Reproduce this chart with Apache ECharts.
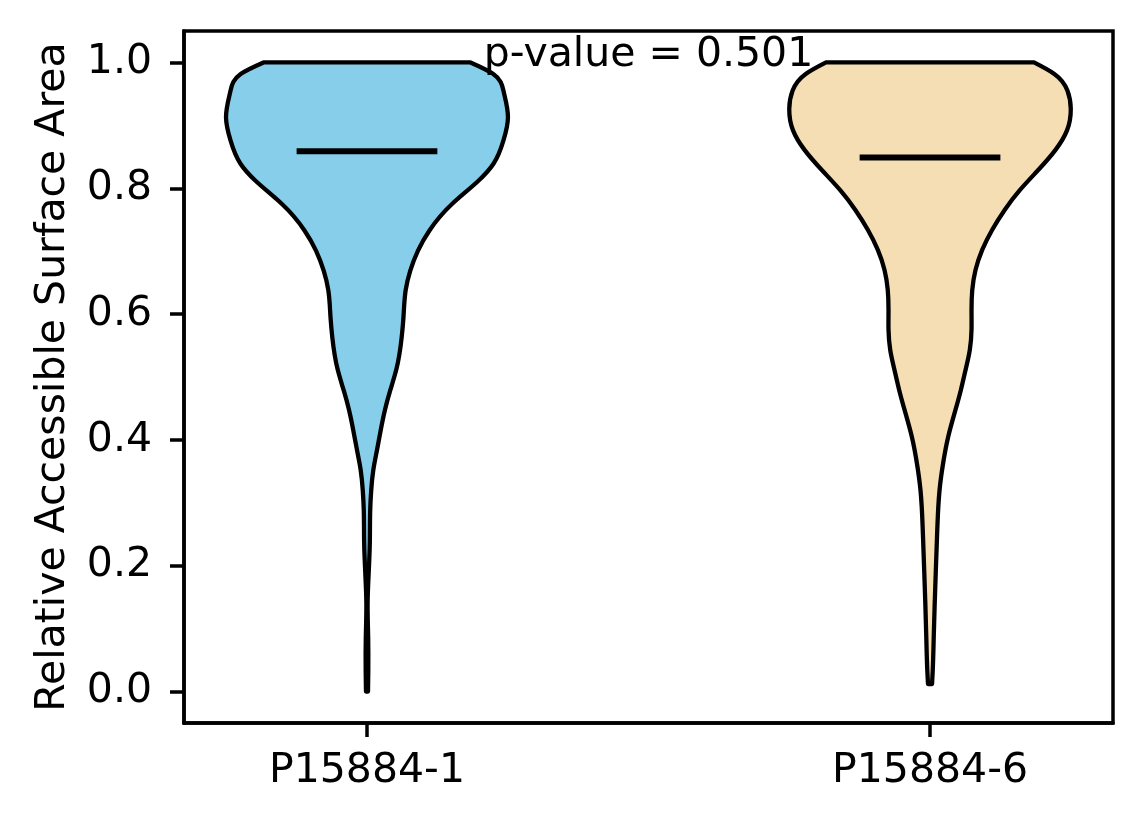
<!DOCTYPE html>
<html>
<head>
<meta charset="utf-8">
<title>Relative Accessible Surface Area</title>
<script src="https://cdn.jsdelivr.net/npm/echarts@6.0.0/dist/echarts.min.js"></script>
<style>
  html, body { margin: 0; padding: 0; background: #fff; }
  #chart { width: 1144px; height: 824px; }
</style>
</head>
<body>
<div id="chart"></div>
<script>
const groups = ['P15884-1', 'P15884-6'];
const groupPositions = [1, 2];
const fillColors = ['#87ceeb', '#f5deb3'];
const means = [0.859, 0.849];
const pValueText = 'p-value = 0.501';
const yTicks = [0, 0.2, 0.4, 0.6, 0.8, 1.0];

// violin outlines: RSA level (bottom to top) and half width in x units
const levels1 = [0.000, 0.033, 0.086, 0.140, 0.192, 0.236, 0.288, 0.320, 0.352, 0.384, 0.416, 0.448, 0.479, 0.513,
  0.563, 0.595, 0.638, 0.669, 0.701, 0.733, 0.775, 0.812, 0.839, 0.876, 0.913, 0.955, 0.982, 1.000];
const halfWidths1 = [0.0018, 0.0023, 0.0021, 0.0011, 0.0032, 0.0050, 0.0057, 0.0075, 0.0112, 0.0178, 0.0245, 0.0320, 0.0414, 0.0524,
  0.0616, 0.0648, 0.0687, 0.0769, 0.0906, 0.1110, 0.1510, 0.1980, 0.2247, 0.2424, 0.2504, 0.2424, 0.2238, 0.1838];

const levels2 = [0.012, 0.033, 0.086, 0.139, 0.192, 0.245, 0.293, 0.320, 0.362, 0.404, 0.448, 0.479, 0.511, 0.543,
  0.575, 0.606, 0.638, 0.670, 0.702, 0.734, 0.766, 0.797, 0.829, 0.861, 0.892, 0.926, 0.955, 0.982, 1.000];
const halfWidths2 = [0.0036, 0.0048, 0.0066, 0.0083, 0.0103, 0.0124, 0.0147, 0.0169, 0.0231, 0.0320, 0.0453, 0.0547, 0.0631, 0.0707,
  0.0737, 0.0737, 0.0750, 0.0808, 0.0927, 0.1105, 0.1329, 0.1595, 0.1922, 0.2229, 0.2433, 0.2500, 0.2442, 0.2202, 0.1847];

const violinLevels = [levels1, levels2];
const violinHalfWidths = [halfWidths1, halfWidths2];

const FONT = 'DejaVu Sans';
const FONT_SIZE = 41;
const LINE_W = 3.5;

// slopes of a natural cubic spline through (t, v), used for bezier control points
function splineSlopes(t, v) {
  const n = t.length - 1;
  const h = [];
  for (let i = 0; i < n; i++) h.push(t[i + 1] - t[i]);
  const M = new Array(n + 1).fill(0);
  if (n > 1) {
    const a = [], b = [], c = [], r = [];
    for (let i = 1; i < n; i++) {
      a.push(h[i - 1]);
      b.push(2 * (h[i - 1] + h[i]));
      c.push(h[i]);
      r.push(6 * ((v[i + 1] - v[i]) / h[i] - (v[i] - v[i - 1]) / h[i - 1]));
    }
    const m = b.length;
    for (let i = 1; i < m; i++) {
      const w = a[i] / b[i - 1];
      b[i] -= w * c[i - 1];
      r[i] -= w * r[i - 1];
    }
    const x = new Array(m);
    x[m - 1] = r[m - 1] / b[m - 1];
    for (let i = m - 2; i >= 0; i--) x[i] = (r[i] - c[i] * x[i + 1]) / b[i];
    for (let i = 1; i < n; i++) M[i] = x[i - 1];
  }
  const s = [];
  for (let i = 0; i < n; i++) s.push((v[i + 1] - v[i]) / h[i] - h[i] * (2 * M[i] + M[i + 1]) / 6);
  s.push((v[n] - v[n - 1]) / h[n - 1] + h[n - 1] * (M[n - 1] + 2 * M[n]) / 6);
  return s;
}

// one side of a violin as bezier segments, side = +1 (right) or -1 (left)
function sidePath(api, pos, lv, hw, slopes, side, reverse) {
  const segs = [];
  for (let i = 0; i < lv.length - 1; i++) {
    const h = lv[i + 1] - lv[i];
    const c1w = Math.max(hw[i] + slopes[i] * h / 3, 0.0004);
    const c2w = Math.max(hw[i + 1] - slopes[i + 1] * h / 3, 0.0004);
    segs.push([
      api.coord([pos + side * hw[i], lv[i]]),
      api.coord([pos + side * c1w, lv[i] + h / 3]),
      api.coord([pos + side * c2w, lv[i + 1] - h / 3]),
      api.coord([pos + side * hw[i + 1], lv[i + 1]])
    ]);
  }
  if (reverse) segs.reverse().forEach(sg => sg.reverse());
  let d = '';
  segs.forEach(sg => {
    d += 'C' + sg[1][0] + ',' + sg[1][1] + ' ' + sg[2][0] + ',' + sg[2][1] + ' ' + sg[3][0] + ',' + sg[3][1];
  });
  return { start: segs[0][0], d: d };
}

function renderViolin(params, api) {
  const i = params.dataIndex;
  const pos = api.value(0);
  const mean = api.value(1);
  const lv = violinLevels[i], hw = violinHalfWidths[i];
  const slopes = splineSlopes(lv, hw);
  const right = sidePath(api, pos, lv, hw, slopes, 1, false);
  const left = sidePath(api, pos, lv, hw, slopes, -1, true);
  const pathData = 'M' + right.start[0] + ',' + right.start[1] + right.d +
    'L' + left.start[0] + ',' + left.start[1] + left.d + 'Z';
  const m1 = api.coord([pos - 0.125, mean]);
  const m2 = api.coord([pos + 0.125, mean]);
  return {
    type: 'group',
    children: [
      {
        type: 'path',
        shape: { pathData: pathData },
        style: { fill: fillColors[i], stroke: '#000', lineWidth: 4.3, lineJoin: 'round' }
      },
      {
        type: 'line',
        shape: { x1: m1[0], y1: m1[1], x2: m2[0], y2: m2[1] },
        style: { stroke: '#000', lineWidth: 6 }
      }
    ]
  };
}

const chart = echarts.init(document.getElementById('chart'));
const option = {
  backgroundColor: '#fff',
  animation: false,
  grid: { left: 184, right: 31, top: 31, bottom: 101, show: true, borderColor: '#000', borderWidth: LINE_W, backgroundColor: 'transparent' },
  xAxis: {
    type: 'value',
    min: 0.675,
    max: 2.325,
    splitLine: { show: false },
    axisLine: { show: true, onZero: false, lineStyle: { color: '#000', width: LINE_W } },
    axisTick: { show: true, customValues: groupPositions, length: 14, lineStyle: { color: '#000', width: LINE_W } },
    axisLabel: {
      customValues: groupPositions,
      formatter: v => groups[groupPositions.indexOf(v)] || '',
      margin: 28,
      color: '#000',
      fontFamily: FONT,
      fontSize: FONT_SIZE
    }
  },
  yAxis: {
    type: 'value',
    min: -0.05,
    max: 1.05,
    name: 'Relative Accessible Surface Area',
    nameLocation: 'middle',
    nameGap: 110,
    nameTextStyle: { color: '#000', fontFamily: FONT, fontSize: FONT_SIZE },
    splitLine: { show: false },
    axisLine: { show: true, onZero: false, lineStyle: { color: '#000', width: LINE_W } },
    axisTick: { show: true, customValues: yTicks, length: 14, lineStyle: { color: '#000', width: LINE_W } },
    axisLabel: {
      customValues: yTicks,
      formatter: v => v.toFixed(1),
      margin: 32,
      color: '#000',
      fontFamily: FONT,
      fontSize: FONT_SIZE
    }
  },
  series: [
    {
      type: 'custom',
      renderItem: renderViolin,
      data: groupPositions.map((p, i) => [p, means[i]]),
      z: 2
    },
    {
      type: 'custom',
      renderItem: function (params, api) {
        const pt = api.coord([api.value(0), api.value(1)]);
        return {
          type: 'text',
          style: {
            text: pValueText, x: pt[0], y: pt[1], align: 'center', verticalAlign: 'middle',
            fill: '#000', fontFamily: FONT, fontSize: FONT_SIZE
          }
        };
      },
      data: [[1.5, 1.012]],
      z: 5
    }
  ]
};
chart.setOption(option);
</script>
</body>
</html>
